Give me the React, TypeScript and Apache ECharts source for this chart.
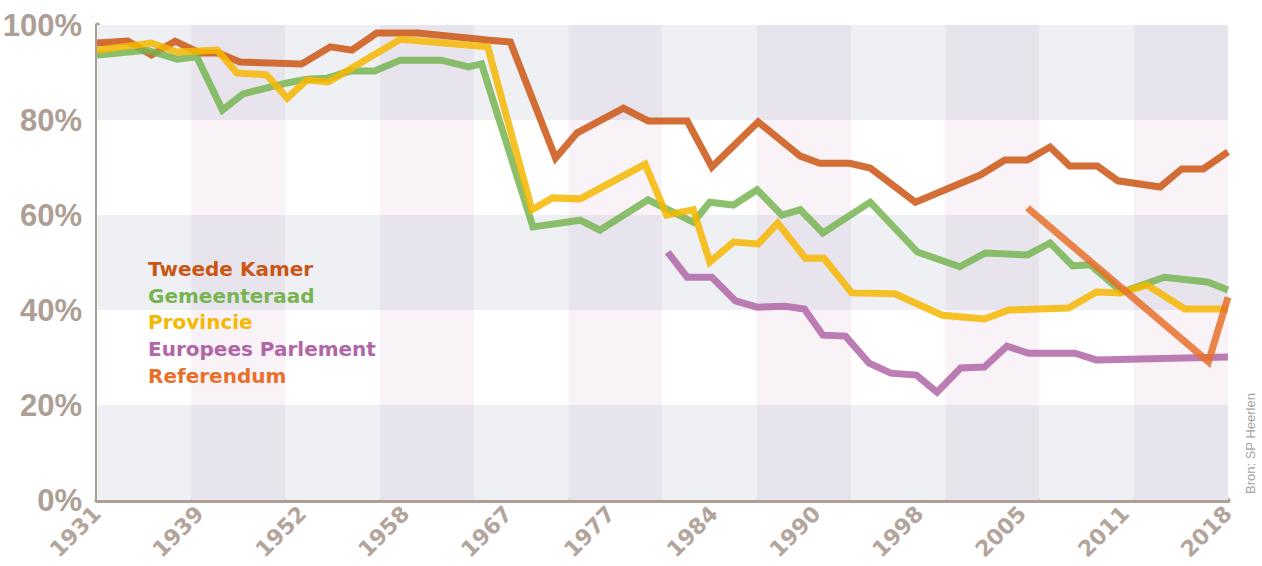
import React, { useEffect, useRef } from "react";
import * as echarts from "echarts";

// Tick labels on the x axis (evenly spaced election markers)
const xTickLabels = ["1931", "1939", "1952", "1958", "1967", "1977", "1984", "1990", "1998", "2005", "2011", "2018"];

// Turnout (%) per series; x is the position along the tick-label scale (0 = 1931 ... 11 = 2018)
const tweedeKamer: [number, number][] = [
  [0, 96.2], [0.3, 96.6], [0.53, 93.7], [0.76, 96.6], [1.0, 94.1], [1.18, 94.1], [1.39, 92.2],
  [1.99, 91.8], [2.27, 95.4], [2.48, 94.7], [2.72, 98.3], [3.12, 98.3], [3.82, 96.8], [4.02, 96.4],
  [4.46, 72.0], [4.67, 77.3], [5.12, 82.5], [5.36, 79.8], [5.74, 79.8], [5.98, 70.1], [6.43, 79.6],
  [6.84, 72.4], [7.03, 70.9], [7.32, 70.9], [7.52, 69.9], [7.96, 62.7], [8.59, 68.4], [8.83, 71.6],
  [9.05, 71.6], [9.27, 74.3], [9.46, 70.3], [9.73, 70.3], [9.93, 67.2], [10.34, 65.9], [10.55, 69.7],
  [10.76, 69.7], [11.0, 73.3],
];
const gemeenteraad: [number, number][] = [
  [0, 93.7], [0.49, 94.7], [0.78, 92.8], [0.97, 93.3], [1.22, 82.1], [1.42, 85.5], [1.85, 87.8],
  [2.04, 88.6], [2.24, 88.8], [2.46, 90.3], [2.7, 90.3], [2.95, 92.6], [3.35, 92.6], [3.61, 91.2],
  [3.74, 91.8], [4.24, 57.5], [4.7, 58.9], [4.89, 56.8], [5.36, 63.2], [5.8, 58.5], [5.96, 62.7],
  [6.19, 62.1], [6.42, 65.3], [6.66, 60.0], [6.84, 61.1], [7.06, 56.2], [7.52, 62.7], [7.98, 52.2],
  [8.39, 49.1], [8.64, 52.0], [9.05, 51.6], [9.27, 54.1], [9.49, 49.3], [9.66, 49.5], [9.97, 43.8],
  [10.38, 46.9], [10.8, 45.9], [11.0, 44.2],
];
const provincie: [number, number][] = [
  [0, 94.7], [0.53, 96.2], [0.78, 94.3], [1.17, 94.7], [1.36, 89.9], [1.65, 89.5], [1.85, 84.6],
  [2.04, 88.4], [2.25, 88.0], [2.95, 97.0], [3.8, 95.4], [4.23, 61.1], [4.43, 63.6], [4.7, 63.4],
  [5.33, 70.7], [5.54, 60.0], [5.8, 61.1], [5.96, 50.1], [6.19, 54.3], [6.43, 53.9], [6.62, 58.3],
  [6.89, 50.9], [7.07, 50.9], [7.34, 43.6], [7.76, 43.4], [8.22, 38.9], [8.63, 38.1], [8.87, 40.0],
  [9.45, 40.4], [9.72, 43.8], [9.95, 43.6], [10.21, 45.3], [10.58, 40.2], [11.0, 40.2],
];
const europeesParlement: [number, number][] = [
  [5.55, 52.2], [5.74, 46.9], [5.98, 46.9], [6.21, 41.9], [6.42, 40.6], [6.69, 40.8], [6.88, 40.2],
  [7.06, 34.7], [7.28, 34.5], [7.51, 28.8], [7.72, 26.7], [7.97, 26.3], [8.17, 22.7], [8.4, 27.8],
  [8.63, 28.0], [8.85, 32.4], [9.06, 30.9], [9.51, 30.9], [9.72, 29.5], [11.0, 30.1],
];
const referendum: [number, number][] = [
  [9.05, 61.5], [10.81, 29.1], [11.0, 42.7],
];

const seriesNames = ["Tweede Kamer", "Gemeenteraad", "Provincie", "Europees Parlement", "Referendum"];
const seriesColors = ["#cb5613", "#78b552", "#f6b700", "#b066a7", "#e8702a"];
const seriesData = [tweedeKamer, gemeenteraad, provincie, europeesParlement, referendum];

// Background checkerboard: 12 columns, 5 horizontal bands of 20%
const columnCount = 12;
const bandBounds = [0, 20, 40, 60, 80, 100];

export default function App() {
  const ref = useRef<HTMLDivElement>(null);
  useEffect(() => {
    if (!ref.current) return;
    const chart = echarts.init(ref.current, undefined, { renderer: "svg" });
    const axisColor = "#ad9f96";

    const cells: any[] = [];
    for (let c = 0; c < columnCount; c++) {
      for (let b = 0; b < bandBounds.length - 1; b++) {
        const shadedBand = b % 2 === 0;
        const darkCol = c % 2 === 1;
        let color = "#ffffff";
        if (shadedBand && !darkCol) color = "#eef0f4";
        if (shadedBand && darkCol) color = "#e7e4ed";
        if (!shadedBand && darkCol) color = "#f9f3f7";
        cells.push([
          { xAxis: c, yAxis: bandBounds[b], itemStyle: { color } },
          { xAxis: c + 1, yAxis: bandBounds[b + 1] },
        ]);
      }
    }

    const lineSeries = seriesNames.map((name, i) => ({
      name,
      type: "line",
      data: seriesData[i],
      symbol: "none",
      smooth: false,
      xAxisIndex: 0,
      yAxisIndex: 0,
      z: 3 + i,
      lineStyle: { width: 7, color: seriesColors[i], opacity: 0.85, join: "miter", cap: "butt" },
      itemStyle: { color: seriesColors[i] },
      emphasis: { disabled: true },
    }));

    chart.setOption({
      animation: false,
      backgroundColor: "#ffffff",
      grid: { left: 97, right: 34, top: 25, bottom: 66, containLabel: false, outerBoundsMode: "none" },
      xAxis: [
        {
          type: "value",
          min: 0,
          max: 11,
          interval: 1,
          axisLine: { show: true, lineStyle: { color: axisColor, width: 5 } },
          axisTick: { show: false },
          splitLine: { show: false },
          axisLabel: {
            rotate: 45,
            margin: 10,
            color: "#b3a59c",
            fontFamily: "'DejaVu Sans', sans-serif",
            fontWeight: "bold",
            fontSize: 22,
            formatter: (v: number) => xTickLabels[Math.round(v)] ?? "",
          },
        },
        { type: "value", min: 0, max: columnCount, show: false },
      ],
      yAxis: {
        type: "value",
        min: 0,
        max: 100,
        interval: 20,
        axisLine: { show: true, lineStyle: { color: axisColor, width: 5 } },
        axisTick: { show: false },
        splitLine: { show: false },
        axisLabel: {
          margin: 15,
          color: axisColor,
          fontFamily: "'Liberation Sans', Arial, sans-serif",
          fontWeight: "bold",
          fontSize: 31,
          formatter: "{value}%",
        },
      },
      legend: {
        orient: "vertical",
        left: 138,
        top: 254,
        icon: "none",
        itemWidth: 0,
        itemHeight: 14,
        itemGap: 6.7,
        selectedMode: false,
        textStyle: { fontFamily: "'DejaVu Sans', sans-serif", fontWeight: "bold", fontSize: 20, lineHeight: 20 },
        data: seriesNames.map((n, i) => ({ name: n, textStyle: { color: seriesColors[i] } })),
      },
      graphic: [
        {
          type: "text",
          x: 1250,
          y: 494,
          rotation: Math.PI / 2,
          style: {
            text: "Bron: SP Heerlen",
            fill: "#a3a3a3",
            font: "13px 'Liberation Sans', Arial, sans-serif",
            textAlign: "left",
            textVerticalAlign: "middle",
          },
        },
      ],
      series: [
        {
          name: "background",
          type: "line",
          xAxisIndex: 1,
          yAxisIndex: 0,
          data: [],
          silent: true,
          z: 1,
          markArea: { silent: true, data: cells, itemStyle: { opacity: 1 } },
        },
        ...lineSeries,
      ],
    });
    return () => chart.dispose();
  }, []);
  return <div ref={ref} style={{ position: "fixed", left: 0, top: 0, width: 1262, height: 566 }} />;
}
